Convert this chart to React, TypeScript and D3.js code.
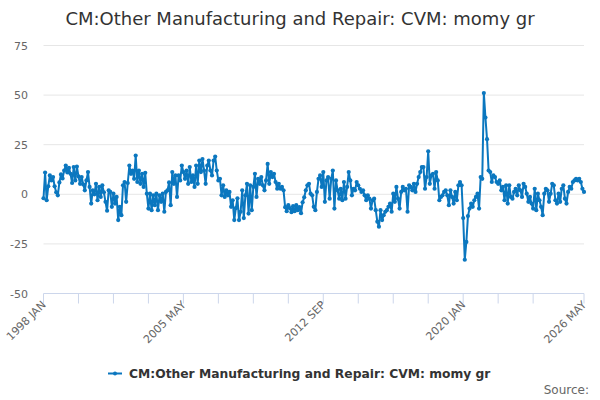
// Line chart: CM:Other Manufacturing and Repair, CVM momy growth, monthly 1998 JAN - 2026 MAY
import React, { useEffect, useRef } from 'react';
import * as d3 from 'd3';

const chartTitle = 'CM:Other Manufacturing and Repair: CVM: momy gr';
const seriesName = 'CM:Other Manufacturing and Repair: CVM: momy gr';
const sourceText = 'Source:';

const firstYear = 1998;
const monthNames = ['JAN', 'FEB', 'MAR', 'APR', 'MAY', 'JUN', 'JUL', 'AUG', 'SEP', 'OCT', 'NOV', 'DEC'];

// one row per year
const momyGr: number[] = [
  -2, 11, -3, 4, 9.5, 7, 8.7, 4, 1, -0.5, 6, 10, // 1998
  8, 12, 14.5, 11, 13.3, 10.3, 5.7, 13.7, 7, 14, 9, 5.3, // 1999
  8.7, 5, 2, 7, 11.2, 3.7, -4.7, 2, 0, 5.3, -3, 3.7, // 2000
  -1.3, 4.5, 1, -3.8, -8.3, 2, 1.2, -6.3, 0.3, -4.7, -1.3, -13, // 2001
  -6.3, -10.5, 4.5, 6.2, -3.8, 5.7, 14.5, 10.3, 12, 7.8, 19.5, 6.2, // 2002
  12, 5.3, 10.3, 3.7, 10.8, 0.3, -7.2, 0.3, -8, -0.5, -5.5, 0.3, // 2003
  -8, -0.5, -3.8, 0.3, -8.8, 1.2, 2, 6, -5.5, 11.2, 5.3, 9.5, // 2004
  -1.3, 9.5, 7, 14.5, 11.2, 7.8, 12, 5.3, 13.7, 6.2, 9.5, 3.7, // 2005
  14.5, 5.3, 17, 11.2, 17.8, 12, 5.3, 14.5, 17, 12, 9.5, 17, // 2006
  19, 12, 7, 7.8, -0.5, 4.5, -1.3, 2, -0.5, 1.2, -6.3, -3, // 2007
  -13, -7, -2, -13, -8.8, 2, -12, -0.5, 5.3, -9.7, 4.5, -8, // 2008
  3.7, 10.3, -1.3, 7.8, 5.3, 8.7, 4.5, 2, 7, 15.3, 5.3, 11.2, // 2009
  8.7, 10.3, 6.2, 2.8, 5.3, 2.8, 3.7, 2, -6.5, -8.5, -5.5, -7, // 2010
  -9, -6, -8.5, -5.5, -8, -6.5, -9.5, -4, -1.5, 2, 4.5, 5.3, // 2011
  0.3, -0.5, -6.3, -8, 1.2, 7.8, 9.5, 3.7, 11.2, -3.8, 7, 8.7, // 2012
  -2.2, 7.8, 12, -7.2, 7, 2, -2.2, 2.8, -3, 6.2, -2.2, 3.7, // 2013
  11.2, 7, -0.5, 2.8, 2, 6.2, 4.5, 2.8, 1.2, 2, -0.5, -3, // 2014
  -0.5, -2.2, -7.2, -3, -2.2, -8, -13.8, -16.3, -8, -13, -10.5, -8.8, // 2015
  -8, -6.3, -4.7, -8.8, 0.3, -3.8, 3.7, -2.2, -7.2, 1.2, 3.7, 2, // 2016
  2.8, -8.8, 4.5, 3.7, 2, 5.3, 1.2, 5.3, 8.7, 11.2, 13.7, 13.7, // 2017
  2.8, 8.7, 21.7, 5.3, 9.5, 10.3, 2.8, 11.2, 7, -3, -1.3, -0.5, // 2018
  1.2, 2, -0.5, -5.5, 2, -1.3, -4.7, 1.2, -3, 4.5, 6.2, 4.5, // 2019
  -12, -33, -24, -11, -7.2, -4.7, -6.3, -3, -1.3, 0.3, -7.2, 8.7, // 2020
  7.8, 51, 38.7, 27.8, 12, 11.2, 6.2, 9.5, 8.7, 6.2, 5.3, 7, // 2021
  2, 3.7, -3, 4.5, -4.7, 4.5, -1.3, -2.2, 1.2, 2.8, -0.5, 4.5, // 2022
  2, -1.3, 5.3, 3.7, 0.3, -3.8, -1.3, -4.7, -7.2, 2.8, -8, 0.3, // 2023
  -3, -6.3, -10.5, 0.3, 2.8, 2, -3.8, 0.3, 5.3, 4.5, -3, -4.7, // 2024
  0.3, -3.8, 2.8, 4.5, -2.2, -4.7, 1.2, 3.7, 2.8, 6.2, 7, 7.8, // 2025
  7, 7.8, 6.2, 2.8, 1.2, // 2026
];

const categories = momyGr.map(
  (_, i) => `${firstYear + Math.floor(i / 12)} ${monthNames[i % 12]}`
);

const yTicks = [-50, -25, 0, 25, 50, 75];
const xTickStep = 22; // small tick every 22 months
const xLabelStep = 88; // label every fourth tick

const lineColor = '#0b77bf';

const App: React.FC = () => {
  const svgRef = useRef<SVGSVGElement>(null);

  useEffect(() => {
    const svg = d3.select(svgRef.current);
    svg.selectAll('*').remove();

    const width = 600;
    const height = 400;
    const margin = { top: 45.5, right: 16, bottom: 106.5, left: 43.5 };
    const last = categories.length - 1;

    const xScale = d3
      .scaleLinear()
      .domain([0, last])
      .range([margin.left, width - margin.right]);

    const yScale = d3
      .scaleLinear()
      .domain([-50, 75])
      .range([height - margin.bottom, margin.top]);

    // title
    svg
      .append('text')
      .attr('x', width / 2)
      .attr('y', 25)
      .attr('text-anchor', 'middle')
      .style('font-size', '18px')
      .style('fill', '#333333')
      .text(chartTitle);

    // grid lines + y labels
    yTicks.forEach((t) => {
      if (t !== -50) {
        svg
          .append('line')
          .attr('x1', margin.left)
          .attr('x2', width - margin.right)
          .attr('y1', yScale(t))
          .attr('y2', yScale(t))
          .attr('stroke', '#e6e6e6')
          .attr('stroke-width', 1);
      }
      svg
        .append('text')
        .attr('x', 28)
        .attr('y', yScale(t) + 4)
        .attr('text-anchor', 'end')
        .style('font-size', '11px')
        .style('fill', '#666666')
        .text(String(t));
    });

    // x axis line
    const axisY = height - margin.bottom;
    svg
      .append('line')
      .attr('x1', margin.left)
      .attr('x2', width - margin.right)
      .attr('y1', axisY)
      .attr('y2', axisY)
      .attr('stroke', '#ccd6eb')
      .attr('stroke-width', 1);

    const tickIdx: number[] = d3.range(0, last - xTickStep, xTickStep).concat([last]);
    tickIdx.forEach((i) => {
      svg
        .append('line')
        .attr('x1', xScale(i))
        .attr('x2', xScale(i))
        .attr('y1', axisY)
        .attr('y2', axisY + 10)
        .attr('stroke', '#ccd6eb')
        .attr('stroke-width', 1);
      if (i % xLabelStep === 0 || i === last) {
        svg
          .append('text')
          .attr('transform', `translate(${xScale(i) + 3}, ${axisY + 12}) rotate(-45)`)
          .attr('text-anchor', 'end')
          .style('font-size', '11px')
          .style('fill', '#666666')
          .text(categories[i]);
      }
    });

    // series line
    const line = d3
      .line<number>()
      .x((_, i) => xScale(i))
      .y((d) => yScale(d));

    svg
      .append('path')
      .datum(momyGr)
      .attr('fill', 'none')
      .attr('stroke', lineColor)
      .attr('stroke-width', 2)
      .attr('stroke-linejoin', 'round')
      .attr('d', line);

    svg
      .append('g')
      .selectAll('circle')
      .data(momyGr)
      .join('circle')
      .attr('cx', (_, i) => xScale(i))
      .attr('cy', (d) => yScale(d))
      .attr('r', 2.1)
      .attr('fill', lineColor);

    // legend
    const legendY = 373.5;
    svg
      .append('line')
      .attr('x1', 108)
      .attr('x2', 122)
      .attr('y1', legendY)
      .attr('y2', legendY)
      .attr('stroke', lineColor)
      .attr('stroke-width', 2);
    svg
      .append('circle')
      .attr('cx', 115)
      .attr('cy', legendY)
      .attr('r', 2)
      .attr('fill', lineColor);
    svg
      .append('text')
      .attr('x', 129)
      .attr('y', legendY + 4.5)
      .style('font-size', '12.3px')
      .style('font-weight', 'bold')
      .style('fill', '#333333')
      .text(seriesName);

    // credits
    svg
      .append('text')
      .attr('x', 589)
      .attr('y', 394)
      .attr('text-anchor', 'end')
      .style('font-size', '12px')
      .style('fill', '#666666')
      .text(sourceText);
  }, []);

  return (
    <div style={{ position: 'absolute', left: 0, top: 0, width: 600, height: 400, background: '#ffffff' }}>
      <svg
        ref={svgRef}
        width={600}
        height={400}
        style={{ display: 'block', fontFamily: '"DejaVu Sans", sans-serif' }}
      />
    </div>
  );
};

export default App;
